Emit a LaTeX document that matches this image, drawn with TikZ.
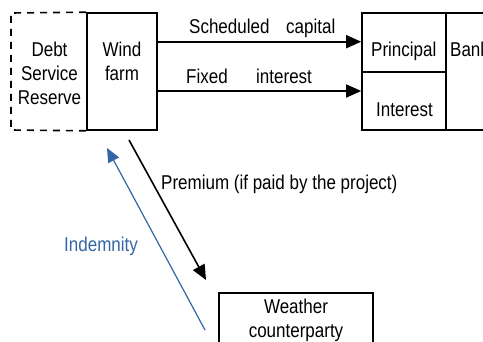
\documentclass[tikz,border=0pt]{standalone}
\usepackage{fontspec}
\setmainfont[FakeStretch=0.85]{Liberation Sans}
\usetikzlibrary{arrows.meta}
\definecolor{indblue}{RGB}{52,101,164}
\begin{document}
\begin{tikzpicture}[x=1pt,y=-1pt,
  box/.style={draw,line width=1.6pt,inner sep=0pt,rectangle},
  txt/.style={inner sep=0pt,anchor=base west,font=\fontsize{20}{24}\selectfont},
  ctxt/.style={txt,anchor=base},
  flow/.style={line width=1.6pt,-{Triangle[length=15pt,width=13pt]}},
  bflow/.style={line width=1.2pt,draw=indblue,-{Triangle[length=14pt,width=12pt]},indblue}]
\useasboundingbox (0,0) rectangle (483,341);
\clip (0,0) rectangle (483,341);
% boxes
\node[box,minimum width=70pt,minimum height=117pt] (wind) at (122,71.5) {};
\node[box,minimum width=84pt,minimum height=59pt] (principal) at (404,42.5) {};
\node[box,minimum width=84pt,minimum height=58pt] (interest) at (404,101) {};
\node[box,minimum width=74pt,minimum height=117pt] (bank) at (483,71.5) {};
\node[box,minimum width=154pt,minimum height=77pt] (weather) at (296,331.5) {};
% dashed reserve
\draw[line width=1.6pt,dash pattern=on 7pt off 6pt] (wind.north west) -- (11,13) -- (11,130) -- (wind.south west);
% texts
\node[ctxt] (t1) at (49.5,56) {Debt};
\node[ctxt] (t2) at (49.5,80) {Service};
\node[ctxt] (t3) at (49.5,104) {Reserve};
\node[ctxt] (t4) at (122,56) {Wind};
\node[ctxt] (t5) at (122,80) {farm};
\node[txt] (t6) at (189,33) {Scheduled};
\node[txt] (t7) at (286,33) {capital};
\node[txt] (t8) at (186,83) {Fixed};
\node[txt] (t9) at (256,83) {interest};
\node[txt] (t10) at (371,56) {Principal};
\node[txt] (t11) at (376,116) {Interest};
\node[txt] (t12) at (450,56) {Bank};
\node[txt] (t13) at (161,189) {Premium (if paid by the project)};
\node[txt,text=indblue] (t14) at (64,251) {Indemnity};
\node[ctxt] (t15) at (296,313) {Weather};
\node[ctxt] (t16) at (296,337) {counterparty};
% connectors
\draw[flow] (wind.east |- 0,41.7) -- (principal.west |- 0,41.7);
\draw[flow] (wind.east |- 0,91) -- (interest.west |- 0,91);
\coordinate (pa) at (129,140);
\coordinate (pb) at (206,280);
\draw[flow] (pa) -- (pb);
\coordinate (ia) at (205,330);
\coordinate (ib) at (107,148);
\draw[bflow] (ia) -- (ib);
\end{tikzpicture}
\end{document}
